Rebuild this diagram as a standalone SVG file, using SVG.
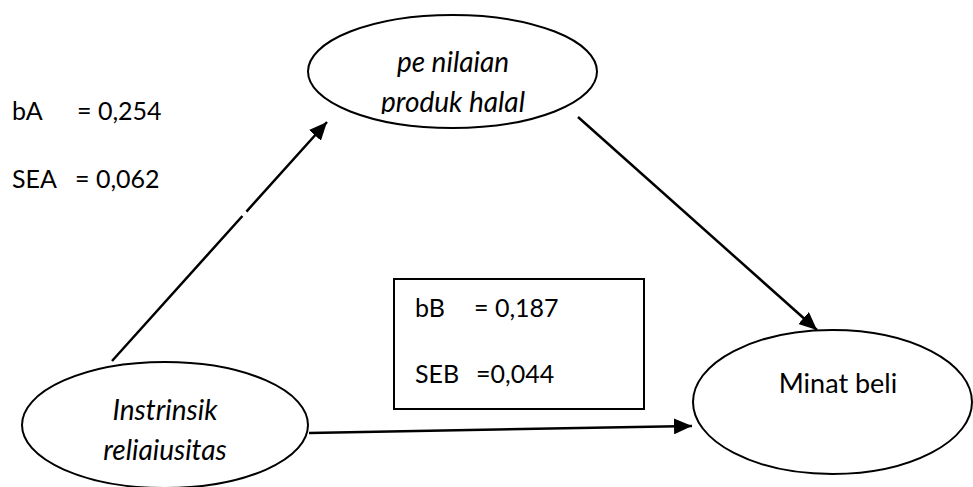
<svg xmlns="http://www.w3.org/2000/svg" width="973" height="487" viewBox="0 0 973 487">
<style>
.node{fill:#fff;stroke:#000;stroke-width:2}
.t{font-family:Lato,"Open Sans","Liberation Sans",sans-serif;font-size:25px;fill:#000}
.n{font-size:28px}
.it{font-style:italic}
.c{text-anchor:middle}
.conn{stroke:#000;stroke-width:2.5;fill:none}
</style>
<defs>
<marker id="ah" markerUnits="userSpaceOnUse" markerWidth="20" markerHeight="16" refX="18" refY="8" orient="auto">
<path d="M0,0 L18,8 L0,16 z" fill="#000"/>
</marker>
<clipPath id="clipTop"><rect x="300" y="0" width="320" height="114"/></clipPath>
</defs>
<rect width="973" height="487" fill="#fff"/>
<g id="connectors">
<line class="conn" x1="112" y1="361" x2="327" y2="122" stroke-dasharray="195 6 300" marker-end="url(#ah)"/>
<line class="conn" x1="578" y1="117" x2="817" y2="330" marker-end="url(#ah)"/>
<line class="conn" x1="309" y1="433" x2="692" y2="426" marker-end="url(#ah)"/>
</g>
<g id="node-penilaian">
<ellipse class="node" cx="452.5" cy="71.5" rx="144.5" ry="56.5"/>
<text class="t n it c" x="453" y="72">pe nilaian</text>
<text class="t n it c" x="453" y="112" clip-path="url(#clipTop)">produk halal</text>
</g>
<g id="node-instrinsik">
<ellipse class="node" cx="165" cy="425" rx="143" ry="63"/>
<text class="t n it c" x="165" y="420">Instrinsik</text>
<text class="t n it c" x="165" y="460">reliaiusitas</text>
</g>
<g id="node-minat">
<ellipse class="node" cx="832.5" cy="402" rx="139.5" ry="72"/>
<text class="t c" style="font-size:27px" x="838" y="393">Minat beli</text>
</g>
<g id="label-A">
<text class="t" x="12" y="120">bA</text>
<text class="t" x="77" y="120">= 0,254</text>
<text class="t" x="12" y="188">SEA</text>
<text class="t" x="75" y="188">= 0,062</text>
</g>
<g id="label-B">
<rect x="394" y="279" width="250" height="130" fill="#fff" stroke="#000" stroke-width="2"/>
<text class="t" x="415" y="317">bB</text>
<text class="t" x="474" y="317">= 0,187</text>
<text class="t" x="415" y="383">SEB</text>
<text class="t" x="476" y="383">=0,044</text>
</g>
</svg>
